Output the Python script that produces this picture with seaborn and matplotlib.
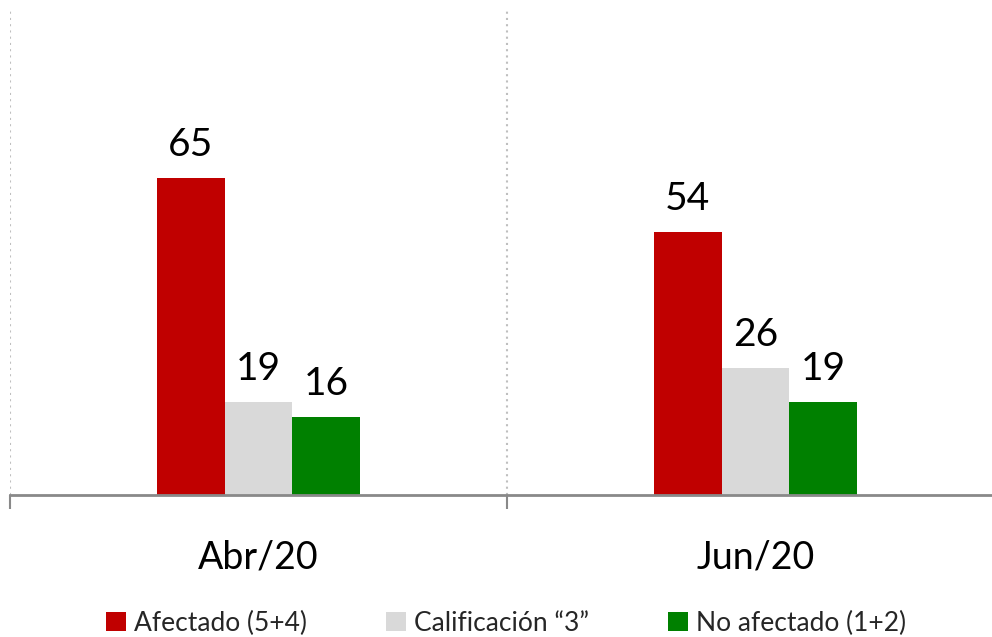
import matplotlib

matplotlib.use("Agg")
import matplotlib.pyplot as plt
import pandas as pd
import seaborn as sns
from matplotlib.patches import Patch

periods = ["Abr/20", "Jun/20"]
series = ["Afectado (5+4)", "Calificación “3”", "No afectado (1+2)"]
afectado = [65, 54]
calificacion_3 = [19, 26]
no_afectado = [16, 19]
colors = ["#C00000", "#D9D9D9", "#008000"]

df = pd.DataFrame({
    "period": periods * 3,
    "series": [series[0]] * 2 + [series[1]] * 2 + [series[2]] * 2,
    "value": afectado + calificacion_3 + no_afectado,
})

sns.set_theme(style="white")
plt.rcParams["font.family"] = ["Lato", "DejaVu Sans"]

fig = plt.figure(figsize=(9.92, 6.37), dpi=100)
ax = fig.add_axes([10 / 992, 1 - 495 / 637, 994 / 992, 487 / 637])

sns.barplot(data=df, x="period", y="value", hue="series", palette=colors,
            width=0.41, saturation=1, linewidth=0, legend=False, ax=ax)

for container in ax.containers:
    ax.bar_label(container, fmt="%d", padding=11, fontsize=28, color="#000000")

ax.set_xlim(-0.5, 1.5)
ax.set_ylim(0, 100)
ax.set_xlabel("")
ax.set_ylabel("")
ax.set_yticks([])

# group separators as dotted gridlines + outward tick marks
ax.set_xticks([-0.5, 0.5, 1.5], minor=True)
ax.grid(True, axis="x", which="minor", color="#BFBFBF", linestyle=(0, (1, 2)), linewidth=1.5)
ax.tick_params(axis="x", which="minor", bottom=True, direction="out", length=10, width=1.5, color="#898989")
ax.tick_params(axis="x", which="major", bottom=False, labelsize=27, pad=26, labelcolor="#000000")

for side in ["top", "right", "left"]:
    ax.spines[side].set_visible(False)
ax.spines["bottom"].set_color("#898989")
ax.spines["bottom"].set_linewidth(2)

handles = [Patch(facecolor=c, edgecolor="none") for c in colors]
fig.legend(handles, series, loc="lower center", bbox_to_anchor=(0.51, -0.035), ncol=3,
           frameon=False, fontsize=19, handlelength=0.75, handleheight=0.75,
           handletextpad=0.3, columnspacing=3.0)

fig.savefig("out.png", dpi=100)
plt.close(fig)
